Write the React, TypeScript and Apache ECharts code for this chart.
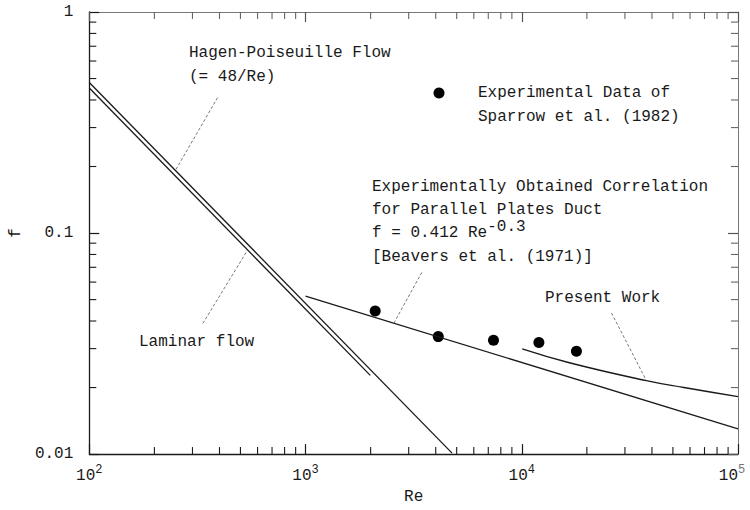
import React, { useEffect, useRef } from "react";
import * as echarts from "echarts";

// Hagen-Poiseuille flow (f = 48/Re)
const hpRe = [100, 4760];
const hpF = [0.48, 0.0101];
// Laminar flow
const lamRe = [100, 1993];
const lamF = [0.453, 0.0227];
// Beavers et al. correlation f = 0.412 Re^-0.3
const corrRe = [1000, 100000];
const corrF = [0.0519, 0.013];
// Present work
const presentRe = [10050, 16600, 37700, 56200, 100000];
const presentF = [0.0299, 0.0259, 0.0215, 0.02, 0.0182];
// Experimental data of Sparrow et al. (1982)
const expRe = [2100, 4110, 7400, 12000, 17900];
const expF = [0.0444, 0.0340, 0.0327, 0.0320, 0.0292];

// leader lines for annotations
const hpLeaderRe = [392, 250];
const hpLeaderF = [0.41, 0.192];
const lamLeaderRe = [335, 540];
const lamLeaderF = [0.039, 0.0839];
const corrLeaderRe = [3450, 2560];
const corrLeaderF = [0.0664, 0.0391];
const presLeaderRe = [26000, 37700];
const presLeaderF = [0.0435, 0.0215];

const xMin = 100;
const xMax = 100000;
const yMin = 0.01;
const yMax = 1;
const minorMultipliers = [2, 3, 4, 5, 6, 7, 8, 9];

const FONT = "Liberation Mono";
const INK = "#1a1a1a";
const FS = 16;

function zip(a: number[], b: number[]) {
  return a.map((v, i) => [v, b[i]]);
}

export default function App() {
  const ref = useRef<HTMLDivElement>(null);

  useEffect(() => {
    if (!ref.current) return;
    const chart = echarts.init(ref.current, null, { renderer: "svg" });

    const minorData: number[][] = [];
    for (let d = xMin; d < xMax * 0.99; d *= 10) {
      for (const m of minorMultipliers) minorData.push([d * m, yMin, 0]);
    }
    for (let d = yMin; d < yMax * 0.99; d *= 10) {
      for (const m of minorMultipliers) minorData.push([xMin, d * m, 1]);
    }

    const leaderStyle = { color: "#555", width: 0.8, type: [3, 2] as any };
    const leader = (re: number[], f: number[]) => ({
      type: "line",
      data: zip(re, f),
      showSymbol: false,
      symbol: "none",
      lineStyle: leaderStyle,
      silent: true,
    });

    const txt = (x: number, y: number, text: string, extra: any = {}) => ({
      type: "text",
      x,
      y,
      style: {
        text,
        fontFamily: FONT,
        fontSize: FS,
        fill: INK,
        verticalAlign: "middle",
        ...extra,
      },
    });

    const option: any = {
      animation: false,
      backgroundColor: "#fff",
      grid: { left: 80, right: 12, top: 12, bottom: 53 },
      xAxis: [
        {
          type: "log",
          logBase: 10,
          min: xMin,
          max: xMax,
          name: "Re",
          nameLocation: "middle",
          nameGap: 34,
          nameTextStyle: { fontFamily: FONT, fontSize: FS, color: INK },
          axisLine: { lineStyle: { color: INK, width: 1.3 } },
          axisTick: { inside: true, length: 10, lineStyle: { color: INK, width: 1.2 } },
          splitLine: { show: false },
          axisLabel: {
            margin: 10,
            formatter: (v: number) => {
              const e = Math.round(Math.log10(v));
              return e === 5 ? "{b|10}{s2|" + e + "}" : "{b|10}{s|" + e + "}";
            },
            rich: {
              b: { fontFamily: FONT, fontSize: FS, color: INK },
              s: {
                fontFamily: FONT,
                fontSize: 12,
                color: INK,
                padding: [0, 0, 12, 0],
              },
              s2: {
                fontFamily: FONT,
                fontSize: 12,
                color: "#777",
                padding: [0, 12, 12, 0],
              },
            },
          },
        },
        {
          type: "log",
          logBase: 10,
          min: xMin,
          max: xMax,
          position: "top",
          axisLine: { lineStyle: { color: "#777", width: 1 } },
          axisTick: { inside: true, length: 10, lineStyle: { color: "#555", width: 1.2 } },
          axisLabel: { show: false },
          splitLine: { show: false },
        },
      ],
      yAxis: [
        {
          type: "log",
          logBase: 10,
          min: yMin,
          max: yMax,
          name: "f",
          nameLocation: "middle",
          nameGap: 50,
          nameRotate: 90,
          nameTextStyle: { fontFamily: FONT, fontSize: FS, color: INK },
          axisLine: { lineStyle: { color: INK, width: 1.3 } },
          axisTick: { inside: true, length: 10, lineStyle: { color: INK, width: 1.2 } },
          splitLine: { show: false },
          axisLabel: {
            margin: 16,
            fontFamily: FONT,
            fontSize: FS,
            color: INK,
            formatter: (v: number) => {
              const e = Math.round(Math.log10(v));
              return e === 0 ? "1" : e === -1 ? "0.1" : "0.01";
            },
          },
        },
        {
          type: "log",
          logBase: 10,
          min: yMin,
          max: yMax,
          position: "right",
          axisLine: { lineStyle: { color: "#777", width: 1 } },
          axisTick: { inside: true, length: 10, lineStyle: { color: "#555", width: 1.2 } },
          axisLabel: { show: false },
          splitLine: { show: false },
        },
      ],
      series: [
        {
          type: "custom",
          silent: true,
          clip: false,
          dimensions: ["x", "y", "kind"],
          encode: { x: 0, y: 1 },
          data: minorData,
          renderItem: (params: any, api: any) => {
            const v = api.value(0);
            const w = api.value(1);
            const kind = api.value(2);
            const len = 7;
            if (kind === 0) {
              const b = api.coord([v, yMin]);
              const t = api.coord([v, yMax]);
              return {
                type: "group",
                children: [
                  {
                    type: "line",
                    shape: { x1: b[0], y1: b[1], x2: b[0], y2: b[1] - len },
                    style: { stroke: INK, lineWidth: 1.1 },
                  },
                  {
                    type: "line",
                    shape: { x1: t[0], y1: t[1], x2: t[0], y2: t[1] + len },
                    style: { stroke: "#666", lineWidth: 1.1 },
                  },
                ],
              };
            }
            const l = api.coord([xMin, w]);
            const r = api.coord([xMax, w]);
            return {
              type: "group",
              children: [
                {
                  type: "line",
                  shape: { x1: l[0], y1: l[1], x2: l[0] + len, y2: l[1] },
                  style: { stroke: INK, lineWidth: 1.1 },
                },
                {
                  type: "line",
                  shape: { x1: r[0], y1: r[1], x2: r[0] - len, y2: r[1] },
                  style: { stroke: "#666", lineWidth: 1.1 },
                },
              ],
            };
          },
        },
        {
          type: "line",
          name: "Hagen-Poiseuille",
          data: zip(hpRe, hpF),
          symbol: "none",
          lineStyle: { color: INK, width: 1.3 },
        },
        {
          type: "line",
          name: "Laminar flow",
          data: zip(lamRe, lamF),
          symbol: "none",
          lineStyle: { color: INK, width: 1.3 },
        },
        {
          type: "line",
          name: "Beavers correlation",
          data: zip(corrRe, corrF),
          symbol: "none",
          lineStyle: { color: INK, width: 1.3 },
        },
        {
          type: "line",
          name: "Present Work",
          data: zip(presentRe, presentF),
          symbol: "none",
          smooth: true,
          lineStyle: { color: INK, width: 1.4 },
        },
        {
          type: "scatter",
          name: "Experimental",
          data: zip(expRe, expF),
          symbol: "circle",
          symbolSize: 11,
          itemStyle: { color: "#000", opacity: 1 },
        },
        leader(hpLeaderRe, hpLeaderF),
        leader(lamLeaderRe, lamLeaderF),
        leader(corrLeaderRe, corrLeaderF),
        leader(presLeaderRe, presLeaderF),
      ],
      graphic: [
        txt(189, 53, "Hagen-Poiseuille Flow"),
        txt(189, 77, "(= 48/Re)"),
        {
          type: "circle",
          shape: { cx: 439, cy: 93, r: 5.5 },
          style: { fill: "#000" },
        },
        txt(478, 93, "Experimental Data of"),
        txt(478, 117, "Sparrow et al. (1982)"),
        txt(372, 187, "Experimentally Obtained Correlation"),
        txt(372, 210, "for Parallel Plates Duct"),
        {
          type: "text",
          x: 372,
          y: 233,
          style: {
            text: "{a|f = 0.412 Re}{s|-0.3}",
            fontFamily: FONT,
            fontSize: FS,
            fill: INK,
            verticalAlign: "middle",
            rich: {
              a: { fontFamily: FONT, fontSize: FS, fill: INK },
              s: {
                fontFamily: FONT,
                fontSize: FS,
                fill: INK,
                padding: [0, 0, 12, 0],
              },
            },
          },
        },
        txt(372, 257, "[Beavers et al. (1971)]"),
        txt(545, 298, "Present Work"),
        txt(139, 342, "Laminar flow"),
      ],
    };

    chart.setOption(option);
    return () => chart.dispose();
  }, []);

  return (
    <div
      ref={ref}
      style={{ position: "fixed", left: 0, top: 0, width: 750, height: 510 }}
    />
  );
}
